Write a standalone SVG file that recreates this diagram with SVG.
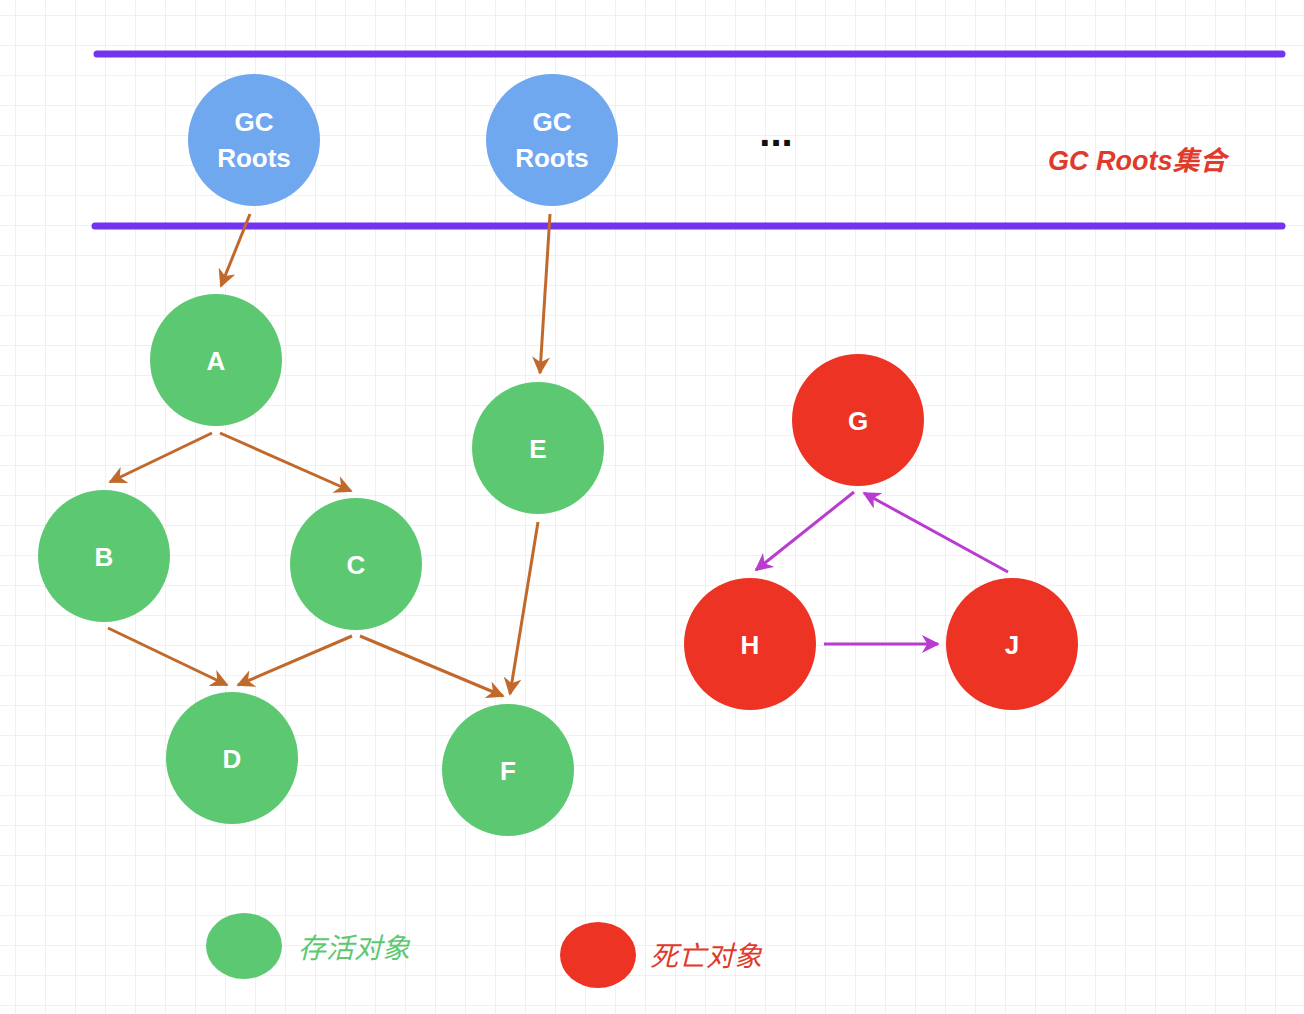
<svg xmlns="http://www.w3.org/2000/svg" width="1304" height="1014" viewBox="0 0 1304 1014">
<defs>
<pattern id="grid" x="15" y="15" width="30" height="30" patternUnits="userSpaceOnUse"><path d="M0 0H30M0 0V30" stroke="#ececec" stroke-width="1.5" fill="none"/></pattern>
<marker id="ao" viewBox="0 0 10 10" refX="9" refY="5" markerWidth="6" markerHeight="6" orient="auto" markerUnits="strokeWidth"><path d="M0 0L10 5L0 10L3 5z" fill="#c0692a"/></marker>
<marker id="ap" viewBox="0 0 10 10" refX="9" refY="5" markerWidth="6" markerHeight="6" orient="auto" markerUnits="strokeWidth"><path d="M0 0L10 5L0 10L3 5z" fill="#b93cd0"/></marker>
</defs>
<style>
.t{font-family:"Liberation Sans",Arial,sans-serif;font-weight:bold;fill:#fff;text-anchor:middle}
.n{font-size:26px}
.o{stroke:#c0692a;stroke-width:3;fill:none;marker-end:url(#ao)}
.p{stroke:#b93cd0;stroke-width:3;fill:none;marker-end:url(#ap)}
.g{fill:#5dc872}.r{fill:#ec3324}.b{fill:#6fa8ee}
</style>
<rect width="1304" height="1014" fill="#fff"/>
<rect width="1304" height="1014" fill="url(#grid)"/>
<g stroke="#7433ee" stroke-width="7" stroke-linecap="round"><line x1="97" y1="54" x2="1282" y2="54"/><line x1="95" y1="226" x2="1282" y2="226"/></g>
<g id="edges">
<line class="o" x1="250" y1="214" x2="221" y2="286"/>
<line class="o" x1="212" y1="433" x2="110" y2="482"/>
<line class="o" x1="220" y1="433" x2="351" y2="491"/>
<line class="o" x1="550" y1="214" x2="540" y2="373"/>
<line class="o" x1="108" y1="628" x2="227" y2="685"/>
<line class="o" x1="352" y1="636" x2="238" y2="685"/>
<line class="o" x1="360" y1="636" x2="503" y2="696"/>
<line class="o" x1="538" y1="522" x2="510" y2="694"/>
<line class="p" x1="854" y1="492" x2="756" y2="570"/>
<line class="p" x1="1008" y1="572" x2="864" y2="493"/>
<line class="p" x1="824" y1="644" x2="938" y2="644"/>
</g>
<g id="gc1"><circle class="b" cx="254" cy="140" r="66"/><text class="t n" x="254" y="131">GC</text><text class="t n" x="254" y="167">Roots</text></g>
<g id="gc2"><circle class="b" cx="552" cy="140" r="66"/><text class="t n" x="552" y="131">GC</text><text class="t n" x="552" y="167">Roots</text></g>
<text id="dots" x="776" y="146" class="t" style="fill:#111;font-size:40px">...</text>
<text id="gcset" x="1048" y="170" style="font-family:'Liberation Sans','Noto Sans CJK SC',sans-serif;font-weight:bold;font-style:italic;font-size:27px;fill:#e03a2a">GC Roots集合</text>
<g id="A"><circle class="g" cx="216" cy="360" r="66"/><text class="t n" x="216" y="370">A</text></g>
<g id="B"><circle class="g" cx="104" cy="556" r="66"/><text class="t n" x="104" y="566">B</text></g>
<g id="C"><circle class="g" cx="356" cy="564" r="66"/><text class="t n" x="356" y="574">C</text></g>
<g id="D"><circle class="g" cx="232" cy="758" r="66"/><text class="t n" x="232" y="768">D</text></g>
<g id="E"><circle class="g" cx="538" cy="448" r="66"/><text class="t n" x="538" y="458">E</text></g>
<g id="F"><circle class="g" cx="508" cy="770" r="66"/><text class="t n" x="508" y="780">F</text></g>
<g id="G"><circle class="r" cx="858" cy="420" r="66"/><text class="t n" x="858" y="430">G</text></g>
<g id="H"><circle class="r" cx="750" cy="644" r="66"/><text class="t n" x="750" y="654">H</text></g>
<g id="J"><circle class="r" cx="1012" cy="644" r="66"/><text class="t n" x="1012" y="654">J</text></g>
<g id="legend-live"><ellipse class="g" cx="244" cy="946" rx="38" ry="33"/><text x="298" y="958" style="font-family:'Noto Sans CJK SC',sans-serif;font-style:italic;font-size:28px;fill:#5dc872">存活对象</text></g>
<g id="legend-dead"><ellipse class="r" cx="598" cy="955" rx="38" ry="33"/><text x="650" y="966" style="font-family:'Noto Sans CJK SC',sans-serif;font-style:italic;font-size:28px;fill:#e03a2a">死亡对象</text></g>
</svg>
